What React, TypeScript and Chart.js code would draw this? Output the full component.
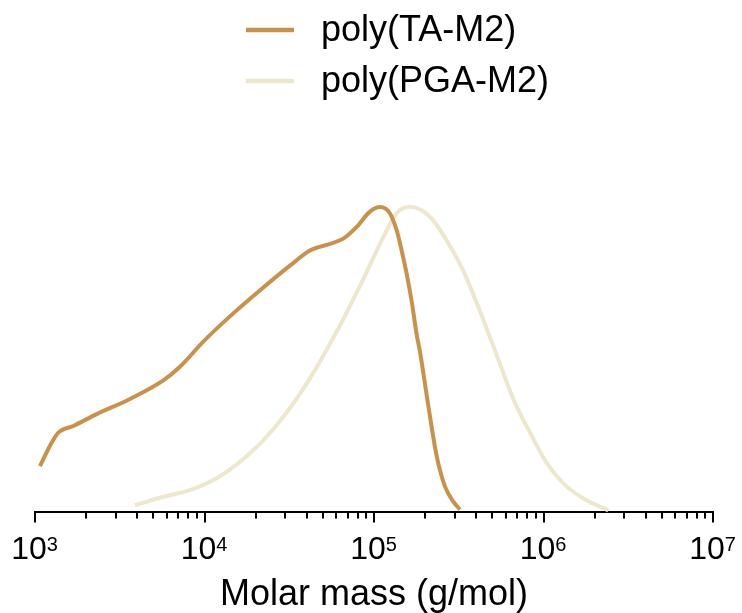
import React, { useEffect, useRef } from 'react';
import { Chart, registerables } from 'chart.js';

Chart.register(...registerables);

// ---- data ----
const seriesLabels = ['poly(TA-M2)', 'poly(PGA-M2)'];
const seriesColors = ['#C9924B', '#EDE7CD'];

const taMass = [1070, 1226, 1373, 1683, 2312, 3635, 5715, 7164, 9840, 14130, 22230, 31920, 41890, 54980, 65890, 79030, 94700, 108500, 124200, 136000, 145600, 155900, 166800, 178600, 186700, 209000, 234300, 262200, 293700, 321500];
const taSignal = [15.0, 21.7, 26.0, 28.2, 32.1, 37.1, 43.2, 47.7, 56.0, 64.3, 73.8, 81.0, 86.0, 88.2, 89.9, 93.8, 98.8, 100.3, 98.2, 92.7, 86.0, 78.3, 69.3, 58.3, 52.7, 35.0, 18.3, 8.3, 3.3, 0.7];

const pgaMass = [3890, 5715, 8200, 11800, 17740, 25470, 38290, 60270, 86490, 113500, 136000, 163000, 213800, 268300, 336500, 422000, 529300, 663700, 832500, 1045000, 1310000, 1718000, 2411000];
const pgaSignal = [2.1, 4.9, 7.1, 11.0, 18.2, 27.1, 40.4, 59.3, 76.6, 90.4, 98.3, 100.4, 97.1, 89.3, 79.3, 66.0, 51.6, 37.1, 26.0, 16.0, 9.3, 4.3, 0.4];

const xMin = 1e3;
const xMax = 1e7;
const decades = [1e3, 1e4, 1e5, 1e6, 1e7];
const decadeBase = '10';
const decadeExponents = ['3', '4', '5', '6', '7'];
const minorMultipliers = [2, 3, 4, 5, 6, 7, 8, 9];
const xTitle = 'Molar mass (g/mol)';

const FONT = "'Liberation Sans', Arial, Helvetica, sans-serif";
const TICK_SIZE = 32;
const EXP_SIZE = 20;
const LABEL_SHIFT = -6;

const decadeIndex = (v: number) => decades.findIndex((d) => Math.abs(d - v) / d < 1e-9);
const isMajor = (v: number) => decadeIndex(v) >= 0;

const tickValues: number[] = [];
decades.forEach((d, i) => {
  tickValues.push(d);
  if (i < decades.length - 1) minorMultipliers.forEach((m) => tickValues.push(d * m));
});
tickValues.sort((a, b) => a - b);

const axisDecorPlugin = {
  id: 'axisDecor',
  afterDraw(chart: any) {
    const xs = chart.scales.x;
    const ctx = chart.ctx;
    ctx.save();
    // minor tick marks
    ctx.strokeStyle = '#000';
    ctx.lineWidth = 2;
    xs.ticks.forEach((t: any) => {
      if (isMajor(t.value)) return;
      const px = Math.round(xs.getPixelForValue(t.value));
      ctx.beginPath();
      ctx.moveTo(px, xs.top);
      ctx.lineTo(px, xs.top + 7);
      ctx.stroke();
    });
    // superscript exponents
    ctx.font = `${TICK_SIZE}px ${FONT}`;
    const baseW = ctx.measureText(decadeBase).width;
    ctx.fillStyle = '#000';
    ctx.textAlign = 'left';
    ctx.textBaseline = 'alphabetic';
    ctx.font = `${EXP_SIZE}px ${FONT}`;
    decades.forEach((d, i) => {
      const px = xs.getPixelForValue(d) + LABEL_SHIFT;
      ctx.fillText(decadeExponents[i], px + baseW / 2, xs.top + 39);
    });
    ctx.restore();
  },
};

const legendPlugin = {
  id: 'customLegend',
  afterDraw(chart: any) {
    const ctx = chart.ctx;
    ctx.save();
    chart.data.datasets.forEach((ds: any, i: number) => {
      const y = 30 + i * 51;
      ctx.strokeStyle = ds.borderColor;
      ctx.lineWidth = 4.5;
      ctx.beginPath();
      ctx.moveTo(246, y);
      ctx.lineTo(294, y);
      ctx.stroke();
      ctx.fillStyle = '#000';
      ctx.font = `36px ${FONT}`;
      ctx.textBaseline = 'middle';
      ctx.textAlign = 'left';
      ctx.fillText(ds.label, 321, y + 1);
    });
    ctx.restore();
  },
};

export default function App() {
  const ref = useRef<HTMLCanvasElement | null>(null);

  useEffect(() => {
    if (!ref.current) return;
    const chart = new Chart(ref.current, {
      type: 'line',
      data: {
        datasets: [
          {
            label: seriesLabels[0],
            data: taMass.map((m, i) => ({ x: m, y: taSignal[i] })),
            borderColor: seriesColors[0],
            backgroundColor: seriesColors[0],
            borderWidth: 4,
            pointRadius: 0,
            cubicInterpolationMode: 'monotone',
            clip: false,
          },
          {
            label: seriesLabels[1],
            data: pgaMass.map((m, i) => ({ x: m, y: pgaSignal[i] })),
            borderColor: seriesColors[1],
            backgroundColor: seriesColors[1],
            borderWidth: 4,
            pointRadius: 0,
            cubicInterpolationMode: 'monotone',
            clip: false,
          },
        ],
      },
      options: {
        animation: false,
        responsive: true,
        maintainAspectRatio: false,
        layout: { padding: { top: 208, left: 35, right: 29, bottom: 0 } },
        plugins: { legend: { display: false }, tooltip: { enabled: false } },
        scales: {
          x: {
            type: 'logarithmic',
            min: xMin,
            max: xMax,
            afterBuildTicks: (scale: any) => {
              scale.ticks = tickValues.map((v) => ({ value: v, major: isMajor(v) }));
            },
            grid: {
              display: true,
              drawOnChartArea: false,
              drawTicks: true,
              tickLength: 11,
              lineWidth: 2,
              color: (c: any) => (c.tick && isMajor(c.tick.value) ? '#000' : 'rgba(0,0,0,0)'),
            },
            border: { display: true, color: '#000', width: 2 },
            ticks: {
              autoSkip: false,
              maxRotation: 0,
              minRotation: 0,
              padding: 8,
              labelOffset: LABEL_SHIFT,
              color: '#000',
              font: { family: FONT, size: TICK_SIZE },
              callback: (v: any) => (isMajor(Number(v)) ? decadeBase : ''),
            },
            title: {
              display: true,
              text: xTitle,
              color: '#000',
              font: { family: FONT, size: 36, lineHeight: 1 },
              padding: { top: 0, bottom: 0 },
            },
          },
          y: {
            type: 'linear',
            display: false,
            min: 0,
            max: 100,
          },
        },
      },
      plugins: [axisDecorPlugin, legendPlugin],
    } as any);
    return () => chart.destroy();
  }, []);

  return (
    <div style={{ position: 'fixed', left: 0, top: 0, width: 742, height: 613, background: '#fff' }}>
      <canvas ref={ref} />
    </div>
  );
}
